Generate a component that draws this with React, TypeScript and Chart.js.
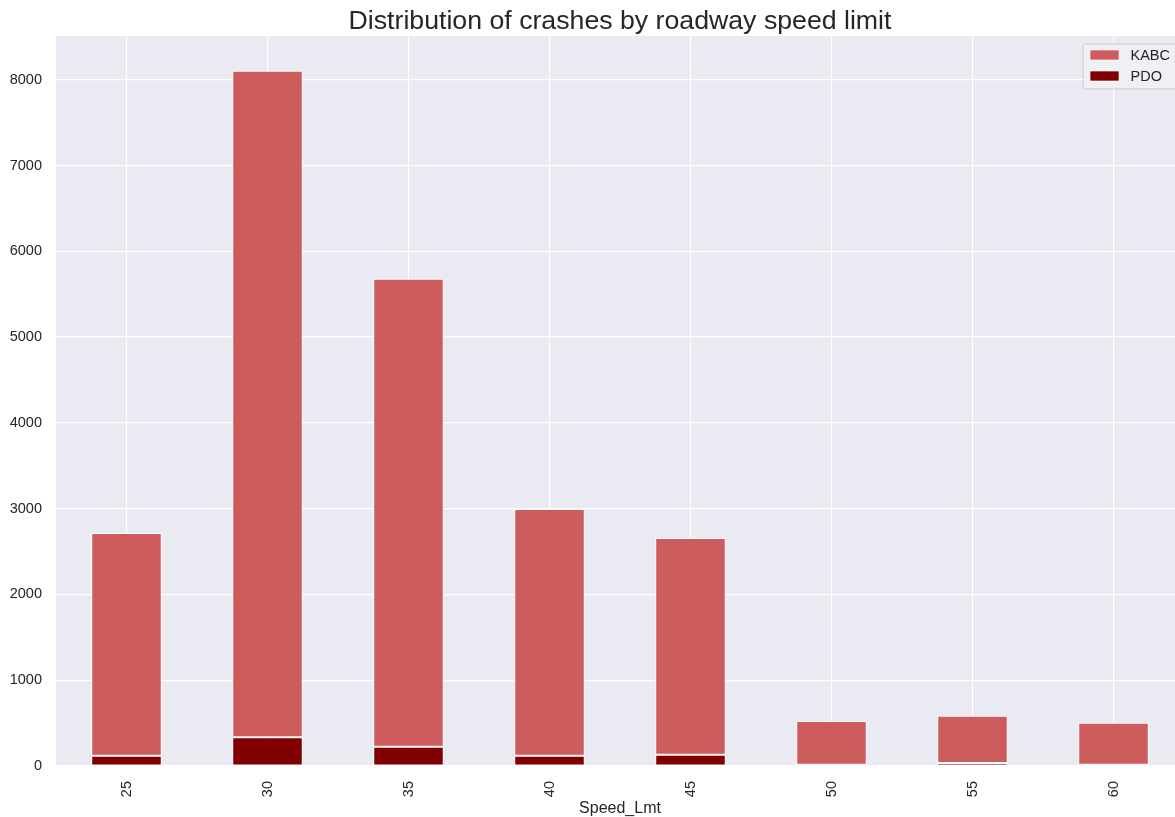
import React, { useEffect, useRef } from "react";
import { Chart, registerables } from "chart.js";

Chart.register(...registerables);

const TITLE = "Distribution of crashes by roadway speed limit";
const speedLimits = ["25", "30", "35", "40", "45", "50", "55", "60"];
const pdoValues = [120, 335, 225, 120, 132, 15, 35, 15];
const kabcValues = [2597, 7770, 5454, 2877, 2527, 510, 552, 490];
const yTicks = [0, 1000, 2000, 3000, 4000, 5000, 6000, 7000, 8000];

const KABC_COLOR = "#CD5C5C";
const PDO_COLOR = "#800000";
const BG = "#EAEAF2";
const TEXT = "#262626";
const FONT = "'Liberation Sans', Arial, sans-serif";

const bgPlugin = {
  id: "plotBg",
  beforeDraw(chart: any) {
    const { ctx, chartArea } = chart;
    ctx.save();
    ctx.fillStyle = BG;
    ctx.fillRect(chartArea.left, chartArea.top, chartArea.right - chartArea.left, chartArea.bottom - chartArea.top);
    ctx.restore();
  },
};

const titlePlugin = {
  id: "mplTitle",
  afterDraw(chart: any) {
    const { ctx, chartArea } = chart;
    ctx.save();
    ctx.font = `26.7px ${FONT}`;
    ctx.fillStyle = TEXT;
    ctx.textAlign = "center";
    ctx.textBaseline = "alphabetic";
    ctx.fillText(TITLE, (chartArea.left + chartArea.right) / 2, 28.5);
    ctx.restore();
  },
};

const legendPlugin = {
  id: "mplLegend",
  afterDraw(chart: any) {
    const { ctx, chartArea } = chart;
    const items = [
      { label: "KABC", color: KABC_COLOR },
      { label: "PDO", color: PDO_COLOR },
    ];
    ctx.save();
    ctx.font = `14.5px ${FONT}`;
    const textW = Math.max(...items.map((i) => ctx.measureText(i.label).width));
    const pad = 7;
    const patchW = 29;
    const gap = 11.5;
    const rowH = 21;
    const boxW = pad + patchW + gap + textW + pad;
    const boxH = 45;
    const right = chartArea.right - 7;
    const left = right - boxW;
    const top = chartArea.top + 8;
    const r = 3;
    ctx.beginPath();
    ctx.moveTo(left + r, top);
    ctx.lineTo(left + boxW - r, top);
    ctx.quadraticCurveTo(left + boxW, top, left + boxW, top + r);
    ctx.lineTo(left + boxW, top + boxH - r);
    ctx.quadraticCurveTo(left + boxW, top + boxH, left + boxW - r, top + boxH);
    ctx.lineTo(left + r, top + boxH);
    ctx.quadraticCurveTo(left, top + boxH, left, top + boxH - r);
    ctx.lineTo(left, top + r);
    ctx.quadraticCurveTo(left, top, left + r, top);
    ctx.closePath();
    ctx.fillStyle = "rgba(240,240,246,0.9)";
    ctx.fill();
    ctx.strokeStyle = "#CCCCCC";
    ctx.lineWidth = 1;
    ctx.stroke();
    items.forEach((it, i) => {
      const cy = top + 11 + i * rowH;
      ctx.fillStyle = it.color;
      ctx.fillRect(left + pad, cy - 5, patchW, 10);
      ctx.strokeStyle = "rgba(255,255,255,0.8)";
      ctx.lineWidth = 0.8;
      ctx.strokeRect(left + pad, cy - 5, patchW, 10);
      ctx.fillStyle = TEXT;
      ctx.textBaseline = "middle";
      ctx.textAlign = "left";
      ctx.fillText(it.label, left + pad + patchW + gap, cy + 1);
    });
    ctx.restore();
  },
};

export default function App() {
  const canvasRef = useRef<HTMLCanvasElement | null>(null);

  useEffect(() => {
    if (!canvasRef.current) return;
    const chart = new Chart(canvasRef.current, {
      type: "bar",
      data: {
        labels: speedLimits,
        datasets: [
          {
            label: "PDO",
            data: pdoValues,
            backgroundColor: PDO_COLOR,
            borderColor: "#FFFFFF",
            borderWidth: 1,
            borderSkipped: false,
            barPercentage: 0.5,
            categoryPercentage: 1,
          },
          {
            label: "KABC",
            data: kabcValues,
            backgroundColor: KABC_COLOR,
            borderColor: "#FFFFFF",
            borderWidth: 1,
            borderSkipped: false,
            barPercentage: 0.5,
            categoryPercentage: 1,
          },
        ],
      },
      options: {
        animation: false,
        responsive: false,
        maintainAspectRatio: false,
        layout: { padding: { top: 36, left: 0, right: 0, bottom: 0 } },
        plugins: {
          legend: { display: false },
          tooltip: { enabled: false },
          title: { display: false },
        },
        scales: {
          x: {
            stacked: true,
            offset: true,
            grid: { color: "#FFFFFF", lineWidth: 1.2, offset: false, drawTicks: false },
            border: { display: false },
            ticks: {
              color: TEXT,
              font: { family: FONT, size: 14.5 },
              minRotation: 90,
              maxRotation: 90,
              padding: 15,
            },
            title: {
              display: true,
              text: "Speed_Lmt",
              color: TEXT,
              font: { family: FONT, size: 16, lineHeight: 1 },
              padding: { top: 0, bottom: 0 },
            },
            afterFit(scale: any) {
              scale.height = 51;
            },
          },
          y: {
            stacked: true,
            min: 0,
            max: 8510,
            grid: { color: "#FFFFFF", lineWidth: 1.2, drawTicks: false },
            border: { display: false },
            afterBuildTicks(scale: any) {
              scale.ticks = yTicks.map((v) => ({ value: v }));
            },
            ticks: {
              color: TEXT,
              font: { family: FONT, size: 14.5 },
              padding: 14,
              callback: (v: any) => String(v),
            },
            afterFit(scale: any) {
              scale.width = 56;
            },
          },
        },
      },
      plugins: [bgPlugin, titlePlugin, legendPlugin],
    });
    return () => chart.destroy();
  }, []);

  return (
    <div
      style={{
        position: "fixed",
        left: 0,
        top: 0,
        width: 1175,
        height: 817,
        overflow: "hidden",
        background: "#FFFFFF",
      }}
    >
      <canvas ref={canvasRef} width={1184} height={817} style={{ display: "block", width: 1184, height: 817 }} />
    </div>
  );
}
